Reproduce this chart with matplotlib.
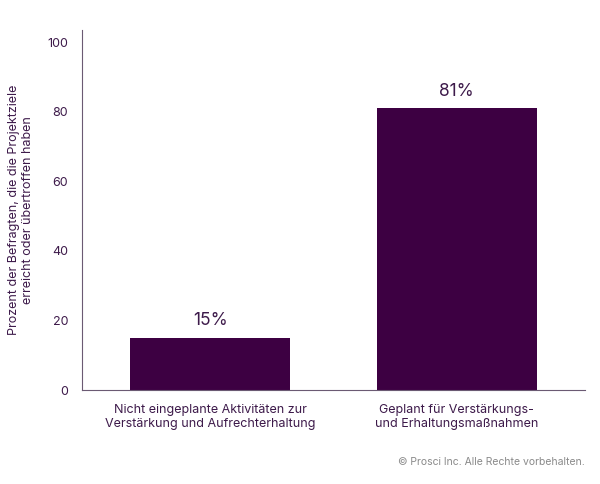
import matplotlib
matplotlib.use("Agg")
import matplotlib.pyplot as plt

categories = ["Nicht eingeplante Aktivitäten zur\nVerstärkung und Aufrechterhaltung",
              "Geplant für Verstärkungs-\nund Erhaltungsmaßnahmen"]
values = [15, 81]
labels = ["15%", "81%"]
yticks = [0, 20, 40, 60, 80, 100]

plt.rcParams['font.family'] = ['Inter', 'DejaVu Sans']
txt = "#3d1a4a"
bar_c = "#3d0042"

fig = plt.figure(figsize=(6, 4.84), dpi=100)
ax = fig.add_axes([0.137, 0.194, 0.838, 0.744])
x = list(range(len(values)))
ax.bar(x, values, width=0.65, color=bar_c)
for xi, v, l in zip(x, values, labels):
    ax.text(xi, v + 2.5, l, ha="center", va="bottom", fontsize=12.5, color=txt)
ax.set_xlim(-0.52, 1.52)
ax.set_ylim(0, 103.5)
ax.set_yticks(yticks)
ax.set_xticks(x)
ax.set_xticklabels(categories, fontsize=9, color=txt)
ax.tick_params(axis='y', length=0, labelsize=9, labelcolor=txt, pad=10)
ax.tick_params(axis='x', length=0, pad=10)
for s in ["top", "right"]:
    ax.spines[s].set_visible(False)
for s in ["left", "bottom"]:
    ax.spines[s].set_color("#6b5a73")
    ax.spines[s].set_linewidth(0.8)
ax.set_ylabel("Prozent der Befragten, die die Projektziele\nerreicht oder übertroffen haben",
              fontsize=9, color=txt, labelpad=10)
fig.text(0.975, 0.04, "© Prosci Inc. Alle Rechte vorbehalten.", ha="right",
         fontsize=7.5, color="#8a8a8a")
fig.savefig("out.png", dpi=100)
